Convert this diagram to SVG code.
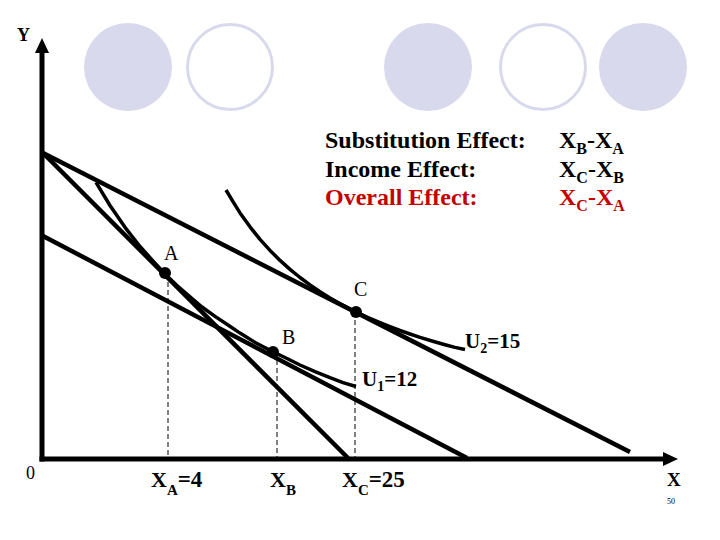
<svg xmlns="http://www.w3.org/2000/svg" width="720" height="540" viewBox="0 0 720 540">
<defs>
<style>
.deco-f{fill:#d9d9ed;stroke:none}
.deco-o{fill:none;stroke:#d9d9ed;stroke-width:3}
.ax{stroke:#000;stroke-width:5;fill:none}
.bl{stroke:#000;stroke-width:4.5;fill:none;stroke-linecap:butt}
.ic{stroke:#000;stroke-width:3.5;fill:none;stroke-linejoin:round}
.dash{stroke:#000;stroke-width:1;stroke-dasharray:5 3;fill:none}
.dot{fill:#000}
text{font-family:"Liberation Serif","Times New Roman",serif;fill:#000}
.b{font-weight:bold}
.red{fill:#c40000}
</style>
<marker id="arr" markerUnits="userSpaceOnUse" markerWidth="15" markerHeight="14" refX="0" refY="7" orient="auto" viewBox="0 0 15 14">
<path d="M0,0 L15,7 L0,14 z" fill="#000"/>
</marker>
</defs>
<rect width="720" height="540" fill="#fff"/>
<g id="decoration">
<circle class="deco-f" cx="128" cy="67" r="44"/>
<circle class="deco-o" cx="230" cy="67" r="42.5"/>
<circle class="deco-f" cx="428" cy="67" r="44"/>
<circle class="deco-o" cx="543" cy="67" r="42.5"/>
<circle class="deco-f" cx="643" cy="67" r="44"/>
</g>
<g id="axes">
<line class="ax" x1="42" y1="461.5" x2="42" y2="53" marker-end="url(#arr)"/>
<line class="ax" x1="39.5" y1="459" x2="663" y2="459" marker-end="url(#arr)"/>
<text x="17" y="41" font-size="18" class="b">Y</text>
<text x="667" y="486" font-size="19" class="b">X</text>
<text x="26" y="479" font-size="18">0</text>
<text x="667" y="504" font-size="8" font-family="Liberation Sans, Arial, sans-serif">50</text>
</g>
<g id="connectors">
<line class="bl" x1="43" y1="153" x2="348" y2="458"/>
<line class="bl" x1="43" y1="153" x2="630" y2="452"/>
<line class="bl" x1="43" y1="236" x2="467" y2="458"/>
<line class="dash" x1="168" y1="274" x2="168" y2="457"/>
<line class="dash" x1="277" y1="352" x2="277" y2="457"/>
<line class="dash" x1="355" y1="312" x2="355" y2="457"/>
<path class="ic" d="M96,182.3 L110,205.5 L125,227.3 L140,246.5 L152,259.8 L165,274 L177,285.5 L190,296.9 L202,307 L215,316.4 L228,325 L240,333.1 L256,343 L273,351.9 L287,358.5 L300,365 L315,371.6 L330,377.7 L343,382.6 L356,386.5"/>
<path class="ic" d="M226,190 L233,201.7 L240,212.9 L250,226.8 L260,239.4 L270,250.4 L280,260.4 L290,269.4 L300,277.5 L310,284.9 L320,291.7 L330,297.9 L340,303.7 L356,312 L368,317.6 L380,322.7 L390,326.7 L400,330.5 L410,334 L420,337.3 L432,341 L445,344.7 L455,347.4 L465,349.5"/>
</g>
<g id="node-A">
<circle class="dot" cx="165" cy="273" r="6"/>
<text x="164" y="260" font-size="20">A</text>
</g>
<g id="node-B">
<circle class="dot" cx="273" cy="352" r="6"/>
<text x="282" y="344" font-size="20">B</text>
</g>
<g id="node-C">
<circle class="dot" cx="356" cy="312" r="6"/>
<text x="354" y="296" font-size="20">C</text>
</g>
<g id="curve-labels">
<text x="465" y="348" font-size="21" class="b">U<tspan dy="5" font-size="14">2</tspan><tspan dy="-5">=15</tspan></text>
<text x="362" y="386" font-size="21" class="b">U<tspan dy="5" font-size="14">1</tspan><tspan dy="-5">=12</tspan></text>
</g>
<g id="axis-labels">
<text x="151" y="487" class="b" font-size="22">X<tspan dy="8" font-size="15">A</tspan><tspan dy="-8" font-size="23">=4</tspan></text>
<text x="270" y="487" class="b" font-size="22">X<tspan dy="8" font-size="15">B</tspan></text>
<text x="342" y="487" class="b" font-size="22">X<tspan dy="8" font-size="15">C</tspan><tspan dy="-8" font-size="23" font-weight="bold">=25</tspan></text>
</g>
<g id="effects">
<text x="325" y="148" class="b" font-size="24">Substitution Effect:</text>
<text x="325" y="177" class="b" font-size="24">Income Effect:</text>
<text x="325" y="205" class="b red" font-size="24">Overall Effect:</text>
<text x="559" y="148" class="b" font-size="24">X<tspan dy="6" font-size="16">B</tspan><tspan dy="-6">-X</tspan><tspan dy="6" font-size="16">A</tspan></text>
<text x="559" y="177" class="b" font-size="24">X<tspan dy="6" font-size="16">C</tspan><tspan dy="-6">-X</tspan><tspan dy="6" font-size="16">B</tspan></text>
<text x="559" y="205" class="b red" font-size="24">X<tspan dy="6" font-size="16">C</tspan><tspan dy="-6">-X</tspan><tspan dy="6" font-size="16">A</tspan></text>
</g>
</svg>
